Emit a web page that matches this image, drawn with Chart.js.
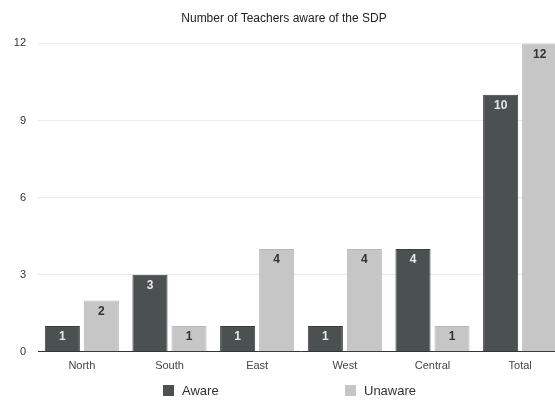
<!DOCTYPE html>
<html>
<head>
<meta charset="utf-8">
<script src="https://cdn.jsdelivr.net/npm/chart.js@4"></script>
<style>
  html, body { margin: 0; padding: 0; overflow: hidden; background: #fff; }
  #wrap { position: relative; width: 555px; height: 400px; overflow: hidden; }
  #legend { position: absolute; top: 383px; left: 0; width: 555px; font: 13px "Liberation Sans", Arial, sans-serif; color: #333; }
  #legend span { position: absolute; display: flex; align-items: center; white-space: nowrap; }
  #legend i { display: inline-block; width: 11px; height: 11px; margin-right: 8px; }
</style>
</head>
<body>
<div id="wrap">
  <canvas id="sdp_chart" width="564" height="400"></canvas>
  <div id="legend"></div>
</div>
<script>
const categories = ["North", "South", "East", "West", "Central", "Total"];
const aware = [1, 3, 1, 1, 4, 10];
const unaware = [2, 1, 4, 4, 1, 12];
const yTicks = [0, 3, 6, 9, 12];

const colors = { aware: "#4b5050", unaware: "#c6c6c6" };

// numbers drawn inside the top of each bar
const barLabels = {
    id: "barLabels",
    afterDatasetsDraw(chart) {
        const c = chart.ctx;
        c.save();
        c.font = "bold 12px 'Liberation Sans', Arial, sans-serif";
        c.textAlign = "center";
        c.textBaseline = "middle";
        chart.data.datasets.forEach((ds, i) => {
            chart.getDatasetMeta(i).data.forEach((bar, j) => {
                c.fillStyle = i === 0 ? "#e8e8e8" : "#333";
                c.fillText(ds.data[j], bar.x, bar.y + 11);
            });
        });
        c.restore();
    }
};

const ctx = document.getElementById("sdp_chart");
const sdp_chart = new Chart(ctx, {
    type: 'bar',
    data: {
        labels: categories,
        datasets: [{
            label: "Aware",
            data: aware,
            backgroundColor: colors.aware,
            borderColor: "#3a3f3f",
            borderWidth: 1,
            barPercentage: 0.9,
            categoryPercentage: 0.89
        }, {
            label: "Unaware",
            data: unaware,
            backgroundColor: colors.unaware,
            borderColor: "#b8b8b8",
            borderWidth: 1,
            barPercentage: 0.9,
            categoryPercentage: 0.89
        }]
    },
    options: {
        responsive: false,
        animation: false,
        layout: { padding: { top: 8, bottom: 27, left: 4, right: 0 } },
        plugins: {
            legend: { display: false },
            tooltip: { enabled: false },
            title: {
                display: true,
                text: "Number of Teachers aware of the SDP",
                color: "#222",
                font: { family: "'Liberation Sans', Arial, sans-serif", size: 12, weight: 'normal' },
                padding: { top: 3, bottom: 18 }
            }
        },
        scales: {
            x: {
                grid: { display: false },
                border: { color: "#333", width: 1 },
                ticks: { color: "#444", font: { family: "'Liberation Sans', Arial, sans-serif", size: 11 }, padding: 0 }
            },
            y: {
                min: 0,
                max: 12,
                afterBuildTicks: (axis) => { axis.ticks = yTicks.map(v => ({ value: v })); },
                afterFit: (axis) => { axis.width = 34; },
                grid: { color: "#ececec", drawTicks: false },
                border: { display: false },
                ticks: { color: "#333", font: { family: "'Liberation Sans', Arial, sans-serif", size: 11 }, padding: 12 }
            }
        }
    },
    plugins: [barLabels]
});

// legend below the chart, spread like the original
const legend = document.getElementById("legend");
[["Aware", colors.aware, 163], ["Unaware", colors.unaware, 345]].forEach(([name, col, left]) => {
    const s = document.createElement("span");
    s.style.left = left + "px";
    s.innerHTML = '<i style="background:' + col + '"></i>' + name;
    legend.appendChild(s);
});
</script>
</body>
</html>
